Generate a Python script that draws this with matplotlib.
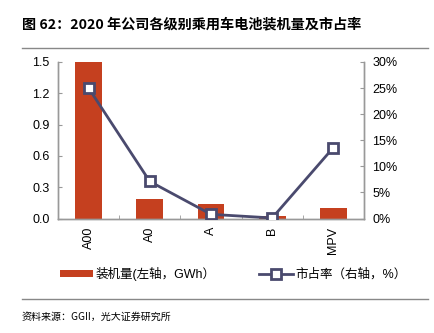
import matplotlib.pyplot as plt
from matplotlib.patches import Patch
from matplotlib.lines import Line2D

plt.rcParams['font.family'] = ['Liberation Sans', 'Noto Sans CJK SC', 'DejaVu Sans']

levels = ["A00", "A0", "A", "B", "MPV"]
installed_gwh = [1.5, 0.19, 0.14, 0.02, 0.105]
share_pct = [25.0, 7.1, 0.8, 0.1, 13.6]

bar_color = "#C5401F"
line_color = "#4A4A6E"
axis_gray = "#999999"

fig = plt.figure(figsize=(4.34, 3.33), dpi=100)
ax = fig.add_axes([58 / 434, 1 - 218.5 / 333, 306 / 434, 156.5 / 333])
ax2 = ax.twinx()

x = list(range(len(levels)))
ax.bar(x, installed_gwh, width=0.44, color=bar_color, zorder=2)
ax.set_xlim(-0.5, len(levels) - 0.5)
ax.set_ylim(0, 1.5)
ax.set_yticks([0, 0.3, 0.6, 0.9, 1.2, 1.5])
ax.set_yticklabels(["0.0", "0.3", "0.6", "0.9", "1.2", "1.5"])
ax.set_xticks(x)
ax.set_xticklabels(levels, rotation=90)
ax.set_xticks([i + 0.5 for i in x[:-1]], minor=True)
ax.tick_params(axis='x', which='major', length=0, pad=6, labelsize=9)
ax.tick_params(axis='x', which='minor', direction='in', length=3, color=axis_gray)
ax.tick_params(axis='y', direction='in', length=3, color=axis_gray, labelsize=9, pad=6)

ax2.plot(x, share_pct, color=line_color, lw=2, marker='s', ms=6.5,
         mfc='white', mec=line_color, mew=2, zorder=3)
ax2.set_ylim(0, 30)
ax2.set_yticks([0, 5, 10, 15, 20, 25, 30])
ax2.set_yticklabels([f"{v}%" for v in [0, 5, 10, 15, 20, 25, 30]])
ax2.tick_params(axis='y', direction='in', length=3, color=axis_gray, labelsize=9, pad=6)

for a in (ax, ax2):
    a.spines['top'].set_visible(False)
    for s in ('left', 'right', 'bottom'):
        a.spines[s].set_color(axis_gray)
        a.spines[s].set_linewidth(1)

# legend row below the category labels
handles = [Patch(facecolor=bar_color, edgecolor='none'),
           Line2D([], [], color=line_color, lw=2, marker='s', ms=6.5,
                  mfc='white', mec=line_color, mew=2)]
fig.legend(handles, ["装机量(左轴，GWh）", "市占率（右轴，%）"],
           loc='center left', bbox_to_anchor=(60 / 434, 1 - 274 / 333),
           ncol=2, frameon=False, fontsize=9, handlelength=2.65,
           handleheight=0.5, handletextpad=0.2, columnspacing=3.5,
           borderaxespad=0, borderpad=0)

fig.text(22 / 434, 1 - 24 / 333, "图 62：2020 年公司各级别乘用车电池装机量及市占率",
         fontsize=10.2, fontweight='bold', va='center', ha='left',
         family=['Noto Sans CJK SC', 'DejaVu Sans'])
fig.add_artist(Line2D([22 / 434, 428 / 434], [1 - 47.5 / 333, 1 - 47.5 / 333],
                      color='#888888', lw=1))
fig.add_artist(Line2D([22 / 434, 428 / 434], [1 - 299 / 333, 1 - 299 / 333],
                      color='#888888', lw=1))
fig.text(22 / 434, 1 - 316.5 / 333, "资料来源：GGII，光大证券研究所",
         fontsize=7.2, va='center', ha='left',
         family=['Noto Sans CJK SC', 'DejaVu Sans'])

fig.savefig("out.png", dpi=100)
